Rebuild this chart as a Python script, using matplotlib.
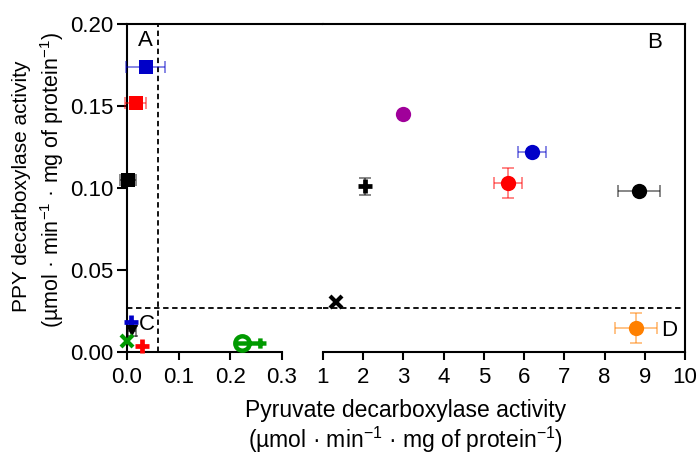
import matplotlib
matplotlib.use("Agg")
import matplotlib.pyplot as plt
from matplotlib.path import Path
import numpy as np

plt.rcParams['font.family'] = ['Liberation Sans', 'DejaVu Sans']
plt.rcParams['mathtext.fontset'] = 'custom'
plt.rcParams['mathtext.rm'] = 'Liberation Sans'
plt.rcParams['mathtext.default'] = 'regular'

# ---------------- data ----------------
# low pyruvate-decarboxylase range (0 - 0.3)
left_x = [0.036, 0.017, 0.002, 0.008, 0.009, 0.0, 0.029, 0.238]
left_y = [0.174, 0.152, 0.105, 0.018, 0.013, 0.0067, 0.0037, 0.0055]
left_xerr = [0.037, 0.020, 0.015, 0.0, 0.008, 0.0, 0.0, 0.0]
left_yerr = [0.002, 0.003, 0.002, 0.0, 0.003, 0.0, 0.0, 0.0]
left_colors = ['#0000c8', '#ff0000', '#000000', '#0000c8', '#000000', '#009a00', '#ff0000', '#009a00']
left_markers = ['s', 's', 's', 'P', 'v', 'X', 'P', 'female']

# high pyruvate-decarboxylase range (1 - 10)
right_x = [3.0, 6.2, 5.6, 2.04, 8.86, 1.32, 8.79]
right_y = [0.145, 0.122, 0.103, 0.101, 0.098, 0.0305, 0.0146]
right_xerr = [0.0, 0.35, 0.34, 0.0, 0.53, 0.0, 0.52]
right_yerr = [0.0, 0.002, 0.009, 0.005, 0.002, 0.0, 0.009]
right_colors = ['#a0009a', '#0000c8', '#ff0000', '#000000', '#000000', '#000000', '#ff8000']
right_markers = ['o', 'o', 'o', 'P', 'o', 'X', 'o']

x_threshold = 0.06
y_threshold = 0.027

left_ticks = [0.0, 0.1, 0.2, 0.3]
right_ticks = [1, 2, 3, 4, 5, 6, 7, 8, 9, 10]
y_ticks = [0.00, 0.05, 0.10, 0.15, 0.20]

# female-like marker: circle with a line to a cross
circ = Path.circle(center=(-0.5, 0), radius=0.45)
line = Path([(-0.95, 0), (1.0, 0)], [Path.MOVETO, Path.LINETO])
bar = Path([(0.62, -0.32), (0.62, 0.32)], [Path.MOVETO, Path.LINETO])
female = Path.make_compound_path(circ, line, bar)

W, H = 697, 457
fig = plt.figure(figsize=(W / 100, H / 100), dpi=100)
bottom = 1 - 352 / H
height = (352 - 24) / H
ax1 = fig.add_axes([127 / W, bottom, (323 - 127) / W, height])
ax2 = fig.add_axes([323 / W, bottom, (685 - 323) / W, height], sharey=ax1)

ax1.set_xlim(0, 0.3 * (323 - 127) / (282 - 127))
ax2.set_xlim(1, 10)
ax1.set_ylim(0, 0.2)

lw = 1.5
for ax in (ax1, ax2):
    for s in ax.spines.values():
        s.set_linewidth(lw)
    ax.tick_params(direction='out', width=lw, length=6, labelsize=16, pad=5)
ax1.spines['right'].set_visible(False)
ax1.spines['bottom'].set_bounds(0, 0.3)
ax2.spines['left'].set_visible(False)
ax2.tick_params(axis='y', left=False, labelleft=False)
ax1.set_xticks(left_ticks)
ax1.set_xticklabels([f"{t:.1f}" for t in left_ticks])
ax2.set_xticks(right_ticks)
ax1.set_yticks(y_ticks)
ax1.set_yticklabels([f"{t:.2f}" for t in y_ticks])
ax1.tick_params(axis='y', length=7, pad=3)

# threshold lines
ax1.axhline(y_threshold, color='black', lw=1.3, ls=(0, (3, 2)), zorder=1)
ax2.axhline(y_threshold, color='black', lw=1.3, ls=(0, (3, 2)), zorder=1)
ax1.axvline(x_threshold, color='black', lw=1.3, ls=(0, (3, 2)), zorder=1)


def draw(ax, xs, ys, xe, ye, cs, ms):
    for x, y, dx, dy, c, m in zip(xs, ys, xe, ye, cs, ms):
        if dx > 0 or dy > 0:
            ax.errorbar(x, y, xerr=dx if dx > 0 else None, yerr=dy if dy > 0 else None,
                        fmt='none', ecolor=c, alpha=0.55, elinewidth=1.2,
                        capsize=4, capthick=1.2, clip_on=False, zorder=3)
        if m == 'female':
            ax.plot(x, y, marker=female, ms=23, mfc='none', mec=c, mew=3.2,
                    ls='none', clip_on=False, zorder=4)
        elif m == 'P':
            ax.plot(x, y, marker='+', ms=10, mec=c, mew=3.4,
                    ls='none', clip_on=False, zorder=4)
        elif m == 'X':
            ax.plot(x, y, marker='x', ms=9, mec=c, mew=3,
                    ls='none', clip_on=False, zorder=4)
        else:
            size = {'s': 10, 'o': 11, 'h': 11, 'v': 9}[m]
            ax.plot(x, y, marker=m, ms=size, mfc=c, mec=c, mew=0,
                    ls='none', clip_on=False, zorder=4)


draw(ax1, left_x, left_y, left_xerr, left_yerr, left_colors, left_markers)
draw(ax2, right_x, right_y, right_xerr, right_yerr, right_colors, right_markers)

# region letters
fig.text(145 / W, 1 - 41 / H, 'A', fontsize=16, ha='center', va='center')
fig.text(655 / W, 1 - 43 / H, 'B', fontsize=16, ha='center', va='center')
fig.text(147 / W, 1 - 325 / H, 'C', fontsize=16, ha='center', va='center')
fig.text(669 / W, 1 - 330 / H, 'D', fontsize=16, ha='center', va='center')

# axis labels
fig.text(406 / W, 1 - 411 / H, 'Pyruvate decarboxylase activity', fontsize=16.5,
         ha='center', va='center')
fig.text(406 / W, 1 - 440 / H,
         '(µmol · min$^{-1}$ · mg of protein$^{-1}$)', fontsize=16.5,
         ha='center', va='center')
fig.text(22 / W, 1 - 186 / H, 'PPY decarboxylase activity', fontsize=15,
         ha='center', va='center', rotation=90)
fig.text(52 / W, 1 - 180 / H,
         '(µmol · min$^{-1}$ · mg of protein$^{-1}$)', fontsize=15.5,
         ha='center', va='center', rotation=90)

fig.savefig('out.png', dpi=100)
